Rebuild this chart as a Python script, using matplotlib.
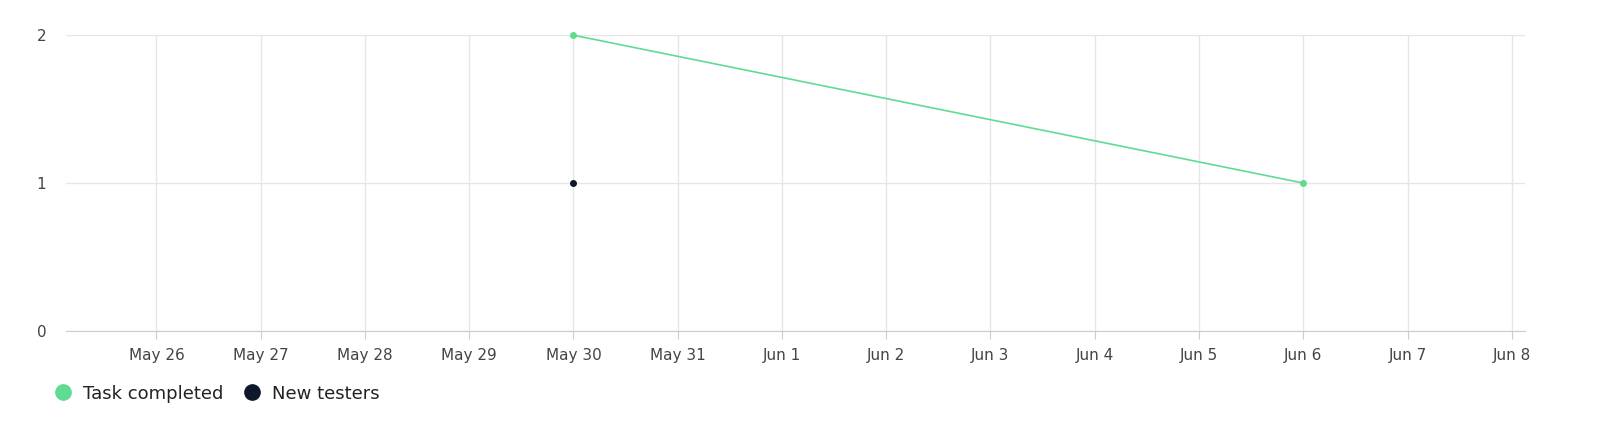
import matplotlib
matplotlib.use("Agg")
import matplotlib.pyplot as plt
from matplotlib.lines import Line2D
import datetime as dt

task_dates = ["2024-05-30", "2024-06-06"]
task_values = [2, 1]
tester_dates = ["2024-05-30"]
tester_values = [1]
tick_dates = ["2024-05-26", "2024-05-27", "2024-05-28", "2024-05-29", "2024-05-30", "2024-05-31",
              "2024-06-01", "2024-06-02", "2024-06-03", "2024-06-04", "2024-06-05", "2024-06-06",
              "2024-06-07", "2024-06-08"]
tick_labels = ["May 26", "May 27", "May 28", "May 29", "May 30", "May 31", "Jun 1", "Jun 2",
               "Jun 3", "Jun 4", "Jun 5", "Jun 6", "Jun 7", "Jun 8"]

p = lambda s: dt.datetime.strptime(s, "%Y-%m-%d")
green = "#5fdb92"
navy = "#0f172a"

fig = plt.figure(figsize=(16, 4.4), dpi=100)
ax = fig.add_axes([0.041, 0.248, 0.912, 0.672])
ax.plot([p(d) for d in task_dates], task_values, color=green, lw=1.2, marker="o", ms=4, zorder=3, clip_on=False)
ax.plot([p(d) for d in tester_dates], tester_values, color=navy, lw=1.2, marker="o", ms=4, ls="none", zorder=3, clip_on=False)

ticks = [p(d) for d in tick_dates]
ax.set_xticks(ticks)
ax.set_xticklabels(tick_labels)
ax.set_xlim(ticks[0] - dt.timedelta(hours=20.9), ticks[-1] + dt.timedelta(hours=3))
ax.set_ylim(0, 2)
ax.set_yticks([0, 1, 2])
ax.grid(True, color="#e6e6e6", lw=1)
ax.set_axisbelow(True)
for s in ["top", "right", "left"]:
    ax.spines[s].set_visible(False)
ax.spines["bottom"].set_color("#cccccc")
ax.tick_params(axis="both", length=0, labelsize=11, colors="#444444", pad=10)
ax.tick_params(axis="x", length=6, color="#cccccc", pad=6)
ax.tick_params(axis="y", pad=14)

handles = [Line2D([], [], marker="o", ls="none", color=green, ms=11),
           Line2D([], [], marker="o", ls="none", color=navy, ms=11)]
fig.legend(handles, ["Task completed", "New testers"], loc="center left",
           bbox_to_anchor=(0.018, 0.105), ncol=2, frameon=False, fontsize=13,
           handletextpad=0.1, columnspacing=0.6, labelcolor="#222222")
fig.savefig("out.png", facecolor="white")
